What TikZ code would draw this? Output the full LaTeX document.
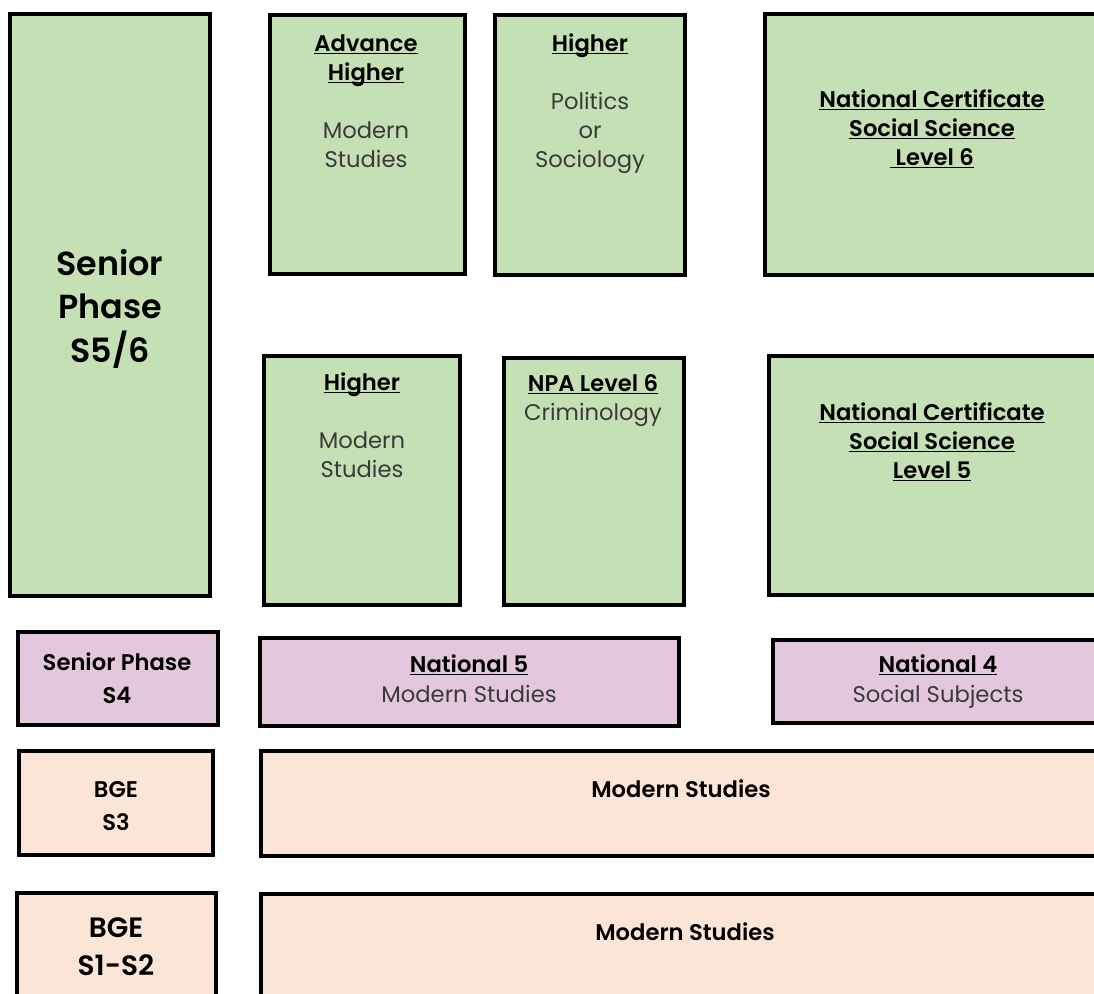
\documentclass[tikz,border=0pt]{standalone}
\usepackage{fontspec}
\setmainfont{Poppins}[BoldFont={Poppins SemiBold}]
\definecolor{gfill}{HTML}{C5E0B4}
\definecolor{pfill}{HTML}{E2C8DA}
\definecolor{ofill}{HTML}{FBE5D6}
\definecolor{txtgray}{HTML}{3A3A3A}
\newcommand\ulh[1]{\leavevmode\setbox0=\hbox{#1}\rlap{\rule[-2.6pt]{\wd0}{1.3pt}}\box0}
\newcommand\stagebox[6]{\node[box,fill=#6,minimum width={(#4-#2-4)*0.75pt},minimum height={(#5-#3-4)*0.75pt}] (#1) at ({(#2+#4)/2},{(#3+#5)/2}) {};}
\tikzset{
  box/.style={draw=black, line width=3pt, inner sep=0pt, rectangle},
  txt/.style={anchor=base, align=center, inner sep=0pt, text=txtgray,
    font=\fontsize{17}{21.75}\selectfont},
  hd/.style={anchor=base, align=center, inner sep=0pt, text=black,
    font=\bfseries\fontsize{17}{21.75}\selectfont},
}
\newcommand\hb[1]{{\color{black}\bfseries\ulh{#1}}}
\begin{document}
\begin{tikzpicture}[x=0.75pt,y=-0.75pt]
\useasboundingbox (0,0) rectangle (1094,993);
\clip (0,0) rectangle (1094,993);
% green boxes
\stagebox{s56}{8}{12}{212}{598}{gfill}
\stagebox{ah}{268}{13}{467}{276}{gfill}
\stagebox{hp}{493}{13}{687}{277}{gfill}
\stagebox{nc6}{763}{12}{1101}{277}{gfill}
\stagebox{hm}{262}{354}{462}{607}{gfill}
\stagebox{npa}{502}{356}{686}{607}{gfill}
\stagebox{nc5}{767}{354}{1101}{597}{gfill}
% pink boxes
\stagebox{s4}{16}{630}{220}{727}{pfill}
\stagebox{n5}{258}{636}{681}{728}{pfill}
\stagebox{n4}{771}{638}{1105}{725}{pfill}
% peach boxes
\stagebox{s3}{17}{749}{215}{857}{ofill}
\stagebox{ms3}{259}{749}{1103}{858}{ofill}
\stagebox{s12}{15}{891}{218}{1010}{ofill}
\stagebox{ms12}{259}{892}{1111}{1010}{ofill}
% texts (anchor = baseline of last line)
\node[hd, font=\bfseries\fontsize{25}{32.6}\selectfont] (t56) at (110,362) {Senior\\Phase\\S5/6};
\node[txt] (tah) at (366,167) {\hb{Advance}\\\hb{Higher}\\[21.75pt]Modern\\Studies};
\node[txt] (thp) at (590,167) {\hb{Higher}\\[21.75pt]Politics\\or\\Sociology};
\node[hd] (tnc6) at (932,165) {\ulh{National Certificate}\\\ulh{Social Science}\\\ulh{\ Level 6}};
\node[txt] (thm) at (362,477) {\hb{Higher}\\[21.75pt]Modern\\Studies};
\node[txt] (tnpa) at (593,420) {\hb{NPA Level 6}\\Criminology};
\node[hd] (tnc5) at (932,478) {\ulh{National Certificate}\\\ulh{Social Science}\\\ulh{Level 5}};
\node[hd, font=\bfseries\fontsize{17}{24.75}\selectfont] (ts4) at (117,703) {Senior Phase\\S4};
\node[txt, font=\fontsize{17}{22.5}\selectfont] (tn5) at (469,702) {\hb{National 5}\\Modern Studies};
\node[txt, font=\fontsize{17}{22.5}\selectfont] (tn4) at (938,702) {\hb{National 4}\\Social Subjects};
\node[hd, font=\bfseries\fontsize{17}{24.75}\selectfont] (ts3) at (116,830) {BGE\\S3};
\node[hd] (tms3) at (681,797) {Modern Studies};
\node[hd, font=\bfseries\fontsize{21}{28.5}\selectfont] (ts12) at (116,975) {BGE\\S1-S2};
\node[hd] (tms12) at (685,940) {Modern Studies};
\end{tikzpicture}
\end{document}
